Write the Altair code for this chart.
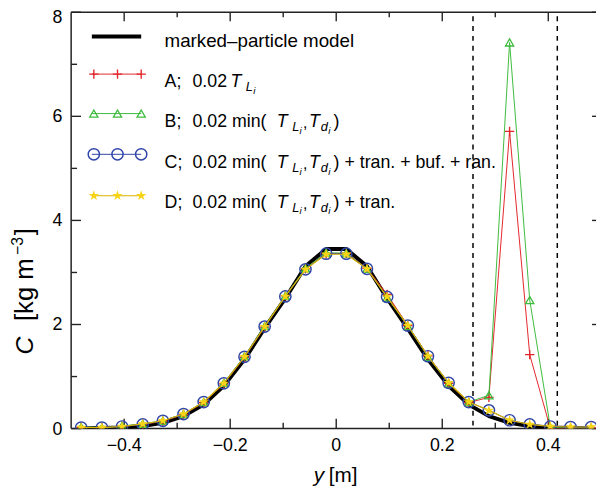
import altair as alt
import pandas as pd

# ---------------- data ----------------
y_pos = [-0.481, -0.442, -0.404, -0.365, -0.327, -0.288, -0.250, -0.212, -0.173,
         -0.135, -0.096, -0.058, -0.019, 0.019, 0.058, 0.096, 0.135, 0.173,
         0.212, 0.250, 0.288, 0.327, 0.365, 0.404, 0.442, 0.481]
c_model = [0.00, 0.01, 0.02, 0.05, 0.11, 0.24, 0.46, 0.82, 1.33, 1.93, 2.50, 3.12, 3.45,
           3.45, 3.12, 2.50, 1.92, 1.33, 0.82, 0.46, 0.24, 0.11, 0.05, 0.02, 0.01, 0.00]
c_A = [0.02, 0.02, 0.04, 0.08, 0.14, 0.27, 0.50, 0.86, 1.37, 1.95, 2.55, 3.07, 3.36,
       3.37, 3.08, 2.58, 1.98, 1.40, 0.87, 0.50, 0.60, 5.71, 1.42, 0.00, 0.01, 0.01]
c_B = [0.03, 0.02, 0.05, 0.09, 0.15, 0.28, 0.51, 0.88, 1.39, 1.97, 2.55, 3.08, 3.38,
       3.37, 3.07, 2.52, 1.97, 1.38, 0.87, 0.51, 0.64, 7.42, 2.47, 0.02, 0.01, 0.01]
c_C = [0.02, 0.02, 0.04, 0.08, 0.15, 0.28, 0.51, 0.87, 1.38, 1.96, 2.54, 3.06, 3.36,
       3.36, 3.07, 2.53, 1.98, 1.39, 0.88, 0.51, 0.35, 0.16, 0.08, 0.04, 0.03, 0.03]
c_D = [0.02, 0.02, 0.04, 0.09, 0.15, 0.28, 0.51, 0.87, 1.38, 1.96, 2.54, 3.06, 3.35,
       3.35, 3.07, 2.53, 1.98, 1.39, 0.88, 0.51, 0.35, 0.16, 0.08, 0.04, 0.03, 0.03]

x_major = [-0.4, -0.2, 0.0, 0.2, 0.4]
x_minor = [-0.3, -0.1, 0.1, 0.3]
y_major = [0, 2, 4, 6, 8]
y_minor = [1, 3, 5, 7]
dashed_pos = [0.258, 0.417]

# ---------------- layout / style ----------------
W, H = 532, 422
FONT = "Liberation Sans"
RED, GREEN, BLUE, YELLOW = "#e3262b", "#3dbb3d", "#2f45a8", "#f7d417"
PLUS = "M-1,0L1,0M0,-1L0,1"
STAR = ("M0,-1L0.225,-0.309L0.951,-0.309L0.363,0.118L0.588,0.809L0,0.382"
        "L-0.588,0.809L-0.363,0.118L-0.951,-0.309L-0.225,-0.309Z")

xs = alt.Scale(domain=[-0.5, 0.49], nice=False, zero=False)
ys = alt.Scale(domain=[0, 8], nice=False, zero=False)


def series_df(vals):
    return pd.DataFrame({"y": y_pos, "C": vals})


def enc(ch):
    return ch.encode(
        x=alt.X("y:Q", scale=xs, axis=None),
        y=alt.Y("C:Q", scale=ys, axis=None),
    )


one = pd.DataFrame({"a": [0]})
layers = []

# frame lines (top, bottom, left)
for kw in (dict(x=0, x2=W, y=0), dict(x=0, x2=W, y=H), dict(x=0, y=0, y2=H)):
    layers.append(alt.Chart(one).mark_rule(color="#222", strokeWidth=1.5).encode(
        **{k: alt.value(v) for k, v in kw.items()}))

layers.append(enc(alt.Chart(series_df(c_model)).mark_line(
    color="black", strokeWidth=4, strokeJoin="round", clip=True)))
layers.append(
    alt.Chart(pd.DataFrame({"v": dashed_pos})).mark_rule(
        color="black", strokeWidth=1.5, strokeDash=[5, 5]
    ).encode(x=alt.X("v:Q", scale=xs, axis=None), y=alt.value(4), y2=alt.value(H))
)

xM = pd.DataFrame({"v": x_major})
xm = pd.DataFrame({"v": x_minor})
yM = pd.DataFrame({"v": y_major})
ym = pd.DataFrame({"v": y_minor})


def xtick(data, y, y2):
    return alt.Chart(data).mark_rule(color="#222", strokeWidth=1.4).encode(
        x=alt.X("v:Q", scale=xs, axis=None), y=alt.value(y), y2=alt.value(y2))


def ytick(data, x, x2):
    return alt.Chart(data).mark_rule(color="#222", strokeWidth=1.4).encode(
        y=alt.Y("v:Q", scale=ys, axis=None), x=alt.value(x), x2=alt.value(x2))


layers.append(xtick(xM, H, H - 10))
layers.append(xtick(xm, H, H - 6))
layers.append(xtick(xM, 0, 9))
layers.append(xtick(xm, 0, 5))
layers.append(ytick(yM, 0, 10))
layers.append(ytick(ym, 0, 6))
layers.append(ytick(yM, W - 4, W))

# tick labels
xlab = pd.DataFrame({"v": x_major,
                     "lab": [("%g" % v).replace("-", "\u2212") for v in x_major]})
layers.append(alt.Chart(xlab).mark_text(
    align="center", baseline="top", font=FONT, fontSize=18, color="black").encode(
    x=alt.X("v:Q", scale=xs, axis=None), y=alt.value(H + 9), text="lab:N"))
ylab = pd.DataFrame({"v": y_major, "lab": [str(v) for v in y_major]})
layers.append(alt.Chart(ylab[ylab.v < 8]).mark_text(
    align="right", baseline="middle", font=FONT, fontSize=18, color="black", dy=1).encode(
    y=alt.Y("v:Q", scale=ys, axis=None), x=alt.value(-9), text="lab:N"))
layers.append(alt.Chart(ylab[ylab.v == 8]).mark_text(
    align="right", baseline="middle", font=FONT, fontSize=18, color="black", dy=6).encode(
    y=alt.Y("v:Q", scale=ys, axis=None), x=alt.value(-9), text="lab:N"))

# ---------------- data series ----------------
layers.append(enc(alt.Chart(series_df(c_A)).mark_line(color=RED, strokeWidth=1, clip=True)))
layers.append(enc(alt.Chart(series_df(c_A)).mark_point(
    shape=PLUS, size=90, color=RED, strokeWidth=1.4, filled=False, opacity=1, clip=True)))
layers.append(enc(alt.Chart(series_df(c_B)).mark_line(color=GREEN, strokeWidth=1, clip=True)))
layers.append(enc(alt.Chart(series_df(c_B)).mark_point(
    shape="triangle-up", size=70, color=GREEN, strokeWidth=1.3, filled=False, opacity=1, clip=True)))
layers.append(enc(alt.Chart(series_df(c_C)).mark_line(color=BLUE, strokeWidth=1, clip=True)))
layers.append(enc(alt.Chart(series_df(c_C)).mark_point(
    shape="circle", size=130, color=BLUE, strokeWidth=1.5, filled=False, opacity=1, clip=True)))
layers.append(enc(alt.Chart(series_df(c_D)).mark_line(color="#d9b400", strokeWidth=1.2, clip=True)))
layers.append(enc(alt.Chart(series_df(c_D)).mark_point(
    shape=STAR, size=120, color=YELLOW, filled=True, opacity=1, clip=True)))

# ---------------- legend ----------------
LX0, LX1 = 21, 71
MK = [23, 47, 71]
rows_y = [24.5, 62.7, 102.7, 144, 186]

layers.append(alt.Chart(one).mark_rule(color="black", strokeWidth=4).encode(
    x=alt.value(LX0), x2=alt.value(LX1), y=alt.value(rows_y[0])))
leg_styles = [
    (RED, dict(shape=PLUS, size=90, color=RED, strokeWidth=1.4, filled=False)),
    (GREEN, dict(shape="triangle-up", size=70, color=GREEN, strokeWidth=1.3, filled=False)),
    (BLUE, dict(shape="circle", size=130, color=BLUE, strokeWidth=1.5, filled=False)),
    ("#d9b400", dict(shape=STAR, size=120, color=YELLOW, filled=True)),
]
for (lc, mk), ry in zip(leg_styles, rows_y[1:]):
    layers.append(alt.Chart(one).mark_rule(color=lc, strokeWidth=1).encode(
        x=alt.value(LX0), x2=alt.value(LX1), y=alt.value(ry)))
    for mx in MK:
        layers.append(alt.Chart(one).mark_point(opacity=1, **mk).encode(
            x=alt.value(mx), y=alt.value(ry)))

# ---------------- text pieces ----------------
TX = 94.7
bl = [35.3, 76, 116, 157.7, 198]
pieces = []  # (text, x, y, size, italic, angle)
pieces.append(("marked\u2013particle model", TX, bl[0], 19, False, 0))
pieces += [("A;", TX, bl[1], 18, False, 0), ("0.02", 123, bl[1], 18, False, 0),
           ("T", 161.5, bl[1], 18, True, 0), ("L", 177, bl[1] + 4, 13, True, 0),
           ("i", 184.5, bl[1] + 7, 10, True, 0)]
for lab, b, suf in [("B;", bl[2], None), ("C;", bl[3], "+ tran. + buf. + ran."),
                    ("D;", bl[4], "+ tran.")]:
    pieces += [(lab, TX, b, 18, False, 0), ("0.02 min(", 123, b, 18, False, 0),
               ("T", 208.5, b, 18, True, 0), ("L", 224, b + 4, 13, True, 0),
               ("i", 231.5, b + 7, 10, True, 0), (",", 235, b + 1, 16, False, 0),
               ("T", 241, b, 18, True, 0), ("d", 253, b + 4, 13, True, 0),
               ("i", 260.5, b + 7, 10, True, 0), (")", 266, b, 18, False, 0)]
    if suf:
        pieces.append((suf, 277, b, 18, False, 0))
pieces += [("y", 246, 476, 21, True, 0), ("[m]", 261, 476, 21, False, 0),
           ("C", -39, 347, 25, True, 270), ("[kg m", -39, 313, 26, False, 270),
           ("\u22123", -49, 246, 16, False, 270), ("]", -39, 226, 26, False, 270)]

for t, px, py, fs, it, ang in pieces:
    props = dict(text=t, align="left", baseline="alphabetic", font=FONT, fontSize=fs,
                 color="black")
    if it:
        props["fontStyle"] = "italic"
    if ang:
        props["angle"] = ang
    layers.append(alt.Chart(one).mark_text(**props).encode(x=alt.value(px), y=alt.value(py)))

chart = alt.layer(*layers).properties(
    width=W, height=H,
    autosize=alt.AutoSizeParams(type="none"),
    padding={"left": 64, "top": 1, "right": 0, "bottom": 63},
).configure_view(strokeWidth=0)

chart.save("out.html", embed_options={"renderer": "svg", "actions": False})
